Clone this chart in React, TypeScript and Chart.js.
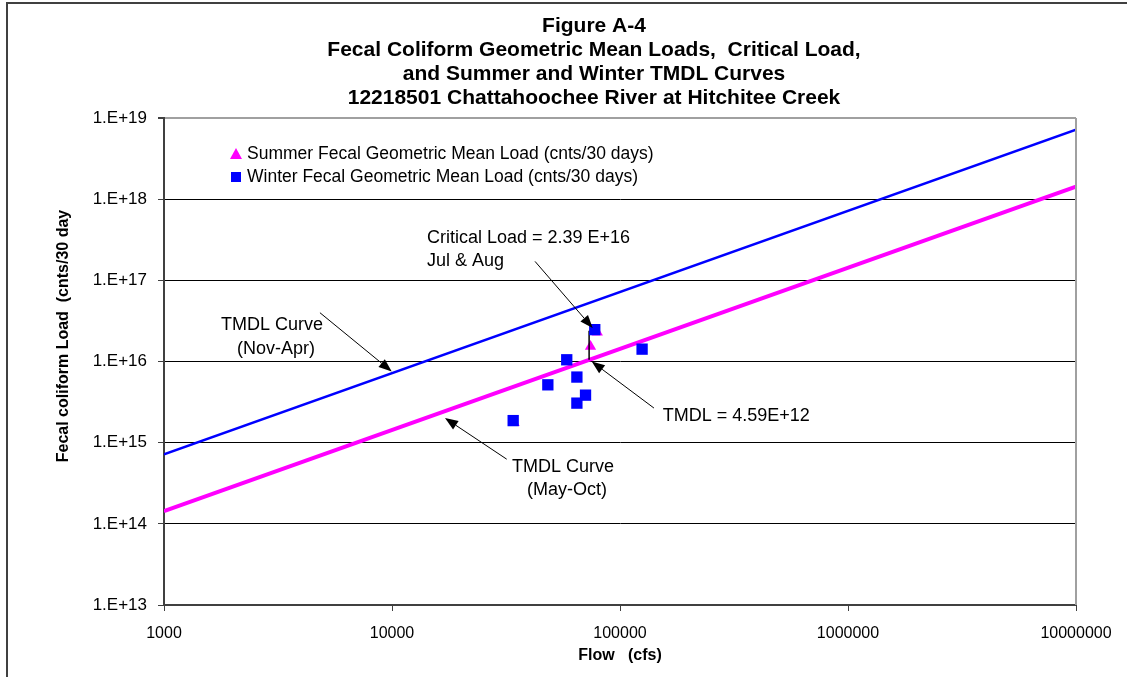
import React, { useEffect, useRef } from "react";
import { Chart, registerables } from "chart.js";

Chart.register(...registerables);

// ---------- DATA ----------
const flowTicks = [1000, 10000, 100000, 1000000, 10000000];
const flowTickLabels = ["1000", "10000", "100000", "1000000", "10000000"];
const loadTicks = [1e13, 1e14, 1e15, 1e16, 1e17, 1e18, 1e19];
const loadTickLabels = ["1.E+13", "1.E+14", "1.E+15", "1.E+16", "1.E+17", "1.E+18", "1.E+19"];

const tmdlCurveFlows = [1000, 10000000];
const winterTmdlLoads = [7.2e14, 7.2e18];
const summerTmdlLoads = [1.43e14, 1.43e18];

const winterFlows = [77500, 125000, 58400, 64700, 48250, 70600, 64700, 34000];
const winterLoads = [2.47e16, 1.42e16, 1.05e16, 6.43e15, 5.16e15, 3.85e15, 3.07e15, 1.87e15];

const summerFlows = [74250, 34300, 79500];
const summerLoads = [1.53e16, 1.76e15, 2.3e16];

const criticalFlow = 73200;
const criticalLoad = 2.39e16;
const criticalTmdlLoad = 1.05e16;

const titleLines = [
  "Figure A-4",
  "Fecal Coliform Geometric Mean Loads,  Critical Load,",
  "and Summer and Winter TMDL Curves",
  "12218501 Chattahoochee River at Hitchitee Creek",
];
const summerLabel = "Summer Fecal Geometric Mean Load (cnts/30 days)";
const winterLabel = "Winter Fecal Geometric Mean Load (cnts/30 days)";
const xTitle = "Flow   (cfs)";
const yTitle = "Fecal coliform Load  (cnts/30 day";

// annotations anchored in data coordinates (flow, load)
const annotationTexts = [
  { text: "Critical Load = 2.39 E+16", x: 14240, y: 3.36e17, align: "left" },
  { text: "Jul & Aug", x: 14240, y: 1.75e17, align: "left" },
  { text: "TMDL = 4.59E+12", x: 153900, y: 2.1e15, align: "left" },
  { text: "TMDL Curve", x: 56230, y: 5.08e14, align: "center" },
  { text: "(May-Oct)", x: 58550, y: 2.62e14, align: "center" },
  { text: "TMDL Curve", x: 2977, y: 2.84e16, align: "center" },
  { text: "(Nov-Apr)", x: 3100, y: 1.44e16, align: "center" },
];
const annotationArrows = [
  { from: [42400, 1.71e17], to: [75900, 2.58e16] },
  { from: [140900, 2.67e15], to: [75150, 1.0e16] },
  { from: [31850, 6.26e14], to: [17080, 2.01e15] },
  { from: [4830, 3.99e16], to: [9970, 7.54e15] },
];

const FONT = '"Liberation Sans", Arial, sans-serif';

function drawArrow(ctx: CanvasRenderingContext2D, x1: number, y1: number, x2: number, y2: number) {
  const ang = Math.atan2(y2 - y1, x2 - x1);
  const len = 13;
  const hw = 5;
  const bx = x2 - Math.cos(ang) * len;
  const by = y2 - Math.sin(ang) * len;
  ctx.beginPath();
  ctx.moveTo(x1, y1);
  ctx.lineTo(bx, by);
  ctx.strokeStyle = "#000";
  ctx.lineWidth = 1;
  ctx.stroke();
  ctx.beginPath();
  ctx.moveTo(x2, y2);
  ctx.lineTo(bx + Math.sin(ang) * hw, by - Math.cos(ang) * hw);
  ctx.lineTo(bx - Math.sin(ang) * hw, by + Math.cos(ang) * hw);
  ctx.closePath();
  ctx.fillStyle = "#000";
  ctx.fill();
}

const overlayPlugin = {
  id: "overlay",
  beforeDraw(chart: any) {
    const ctx = chart.ctx as CanvasRenderingContext2D;
    ctx.save();
    ctx.fillStyle = "#fff";
    ctx.fillRect(0, 0, chart.width, chart.height);
    ctx.restore();
  },
  afterDraw(chart: any) {
    const ctx = chart.ctx as CanvasRenderingContext2D;
    const xs = chart.scales.x;
    const ys = chart.scales.y;
    const area = chart.chartArea;
    ctx.save();

    // plot area right border
    ctx.strokeStyle = "#a0a0a0";
    ctx.lineWidth = 2;
    ctx.beginPath();
    ctx.moveTo(area.right, area.top);
    ctx.lineTo(area.right, area.bottom);
    ctx.stroke();

    // outer frame
    ctx.strokeStyle = "#404040";
    ctx.lineWidth = 2;
    ctx.beginPath();
    ctx.moveTo(7, chart.height + 5);
    ctx.lineTo(7, 3);
    ctx.lineTo(chart.width + 5, 3);
    ctx.stroke();

    // titles
    ctx.fillStyle = "#000";
    ctx.textAlign = "center";
    ctx.textBaseline = "middle";
    ctx.font = `bold 21px ${FONT}`;
    const titleY = [26, 50, 74, 98];
    titleLines.forEach((t, i) => ctx.fillText(t, 594, titleY[i]));

    // axis titles
    ctx.font = `bold 16px ${FONT}`;
    ctx.fillText(xTitle, 620, 656);
    ctx.save();
    ctx.translate(64, 336);
    ctx.rotate(-Math.PI / 2);
    ctx.fillText(yTitle, 0, 0);
    ctx.restore();

    // legend
    ctx.font = `17.5px ${FONT}`;
    ctx.textAlign = "left";
    ctx.fillStyle = "#FF00FF";
    ctx.beginPath();
    ctx.moveTo(236, 148);
    ctx.lineTo(242, 159);
    ctx.lineTo(230, 159);
    ctx.closePath();
    ctx.fill();
    ctx.fillStyle = "#0000FF";
    ctx.fillRect(231, 172, 10, 10);
    ctx.fillStyle = "#000";
    ctx.fillText(summerLabel, 247, 154);
    ctx.fillText(winterLabel, 247, 177);

    // annotations
    ctx.font = `18px ${FONT}`;
    annotationTexts.forEach((a) => {
      ctx.textAlign = a.align as CanvasTextAlign;
      ctx.fillText(a.text, xs.getPixelForValue(a.x), ys.getPixelForValue(a.y));
    });
    annotationArrows.forEach((a) => {
      drawArrow(
        ctx,
        xs.getPixelForValue(a.from[0]),
        ys.getPixelForValue(a.from[1]),
        xs.getPixelForValue(a.to[0]),
        ys.getPixelForValue(a.to[1])
      );
    });
    ctx.restore();
  },
};

export default function App() {
  const ref = useRef<HTMLCanvasElement>(null);
  useEffect(() => {
    const canvas = ref.current!;
    const chart = new Chart(canvas, {
      type: "scatter",
      data: {
        datasets: [
          {
            label: winterLabel,
            data: winterFlows.map((x, i) => ({ x, y: winterLoads[i] })),
            pointStyle: "rect",
            pointRadius: 8,
            backgroundColor: "#0000FF",
            borderColor: "#0000FF",
            borderWidth: 0,
            order: 0,
          },
          {
            label: "Critical Load",
            data: [
              { x: criticalFlow, y: criticalTmdlLoad },
              { x: criticalFlow, y: criticalLoad },
            ],
            showLine: true,
            borderColor: "#000",
            borderWidth: 1.5,
            pointRadius: 0,
            order: 1,
          },
          {
            label: summerLabel,
            data: summerFlows.map((x, i) => ({ x, y: summerLoads[i] })),
            pointStyle: "triangle",
            pointRadius: 6.5,
            backgroundColor: "#FF00FF",
            borderColor: "#FF00FF",
            borderWidth: 0,
            order: 2,
          },
          {
            label: "TMDL Curve (Nov-Apr)",
            data: tmdlCurveFlows.map((x, i) => ({ x, y: winterTmdlLoads[i] })),
            showLine: true,
            borderColor: "#0000FF",
            borderWidth: 2.5,
            pointRadius: 0,
            order: 3,
          },
          {
            label: "TMDL Curve (May-Oct)",
            data: tmdlCurveFlows.map((x, i) => ({ x, y: summerTmdlLoads[i] })),
            showLine: true,
            borderColor: "#FF00FF",
            borderWidth: 4,
            pointRadius: 0,
            order: 4,
          },
        ],
      },
      options: {
        responsive: false,
        animation: false,
        layout: { padding: { left: 0, top: 118, right: 51, bottom: 0 } },
        plugins: {
          legend: { display: false },
          tooltip: { enabled: false },
          title: { display: false },
        },
        scales: {
          x: {
            type: "logarithmic",
            position: "bottom",
            min: 1000,
            max: 10000000,
            afterFit: (s: any) => {
              s.height = 72;
            },
            afterBuildTicks: (s: any) => {
              s.ticks = flowTicks.map((v) => ({ value: v }));
            },
            ticks: {
              autoSkip: false,
              maxRotation: 0,
              padding: 13,
              color: "#000",
              font: { family: FONT, size: 16 },
              callback: (v: any) => flowTickLabels[flowTicks.indexOf(Number(v))],
            },
            grid: {
              drawOnChartArea: false,
              tickLength: 6,
              tickColor: "#404040",
              color: "#404040",
            },
            border: { color: "#404040", width: 2 },
          },
          y: {
            type: "logarithmic",
            position: "left",
            min: 1e13,
            max: 1e19,
            afterFit: (s: any) => {
              s.width = 164;
            },
            afterBuildTicks: (s: any) => {
              s.ticks = loadTicks.map((v) => ({ value: v }));
            },
            ticks: {
              autoSkip: false,
              padding: 11,
              color: "#000",
              font: { family: FONT, size: 17 },
              callback: (v: any) => loadTickLabels[loadTicks.indexOf(Number(v))],
            },
            grid: {
              drawOnChartArea: true,
              tickLength: 6,
              tickColor: "#404040",
              color: (c: any) => (c.tick && c.tick.value === 1e19 ? "#a0a0a0" : "#000"),
              lineWidth: (c: any) => (c.tick && c.tick.value === 1e19 ? 2 : 1),
            },
            border: { color: "#404040", width: 2 },
          },
        },
      },
      plugins: [overlayPlugin],
    } as any);
    return () => chart.destroy();
  }, []);

  return (
    <div style={{ position: "fixed", left: 0, top: 0, width: 1127, height: 677 }}>
      <canvas ref={ref} width={1127} height={677} style={{ display: "block" }} />
    </div>
  );
}
